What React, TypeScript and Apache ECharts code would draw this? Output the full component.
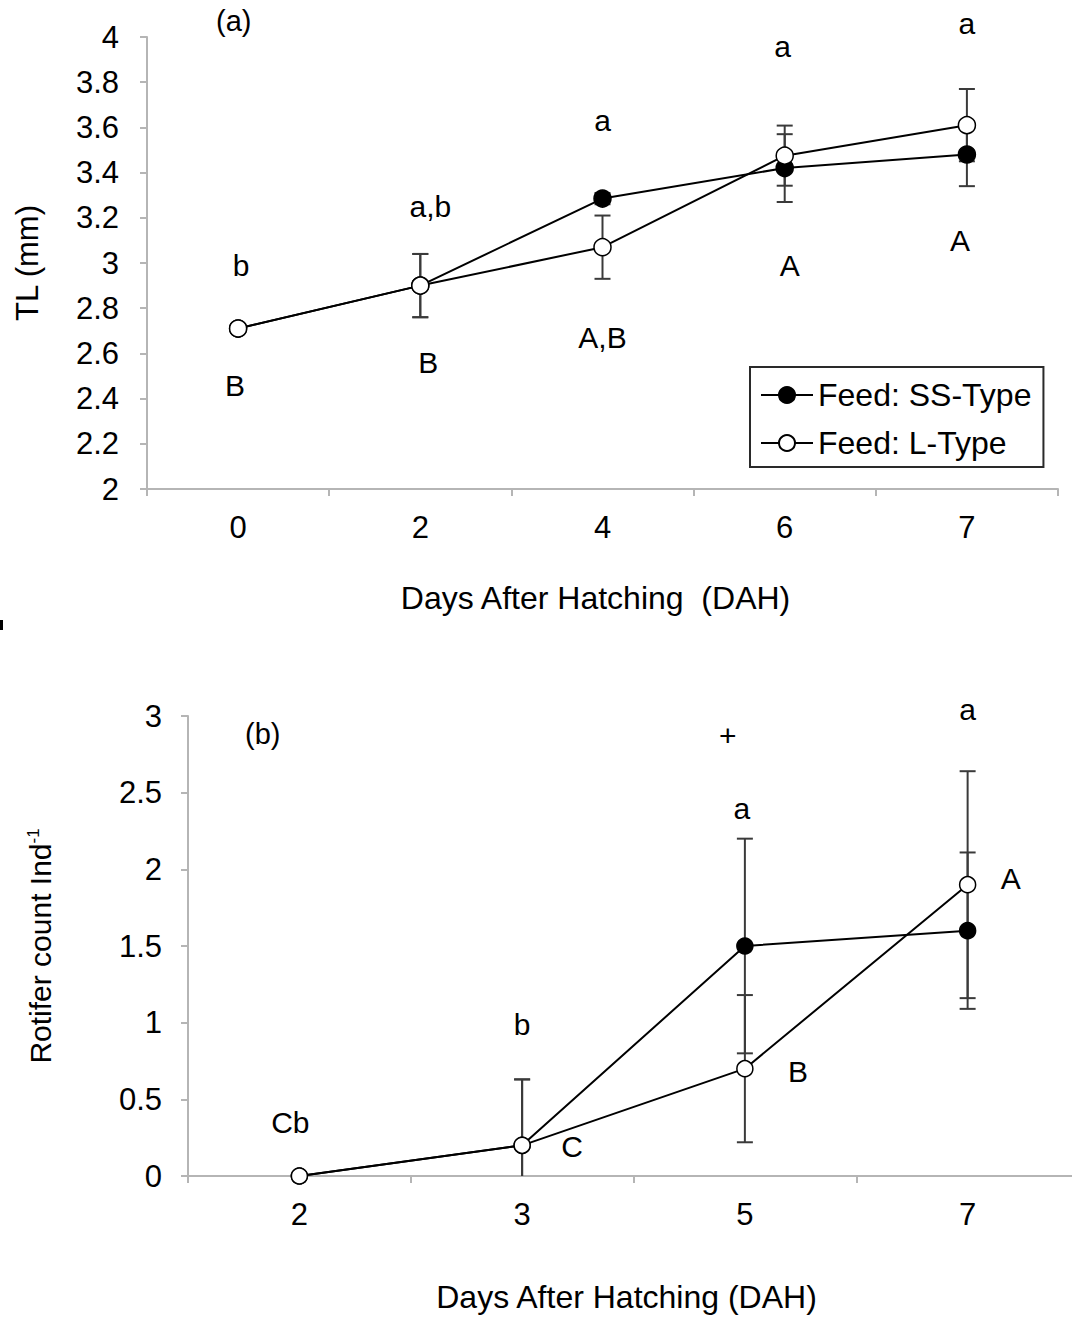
import React, { useEffect, useRef } from 'react';
import * as echarts from 'echarts';

// ---------- Panel (a): total length ----------
const daysA = ['0', '2', '4', '6', '7'];
const ssTL = [2.71, 2.9, 3.285, 3.42, 3.48];
const lTL = [2.71, 2.9, 3.07, 3.475, 3.61];
const ssTLErr = [0, 0.14, 0.025, 0.15, 0.14];
const lTLErr = [0, 0.14, 0.14, 0.133, 0.16];
const tlTicks = { min: 2, max: 4, interval: 0.2 };
// annotation letters: [category index, y value, text, x offset px]
const annotA: [number, number, string, number][] = [
  [0, 2.99, 'b', 3], [0, 2.46, 'B', -3],
  [1, 3.25, 'a,b', 10], [1, 2.56, 'B', 8],
  [2, 3.63, 'a', 0], [2, 2.67, 'A,B', 0],
  [3, 3.96, 'a', -2], [3, 2.99, 'A', 5],
  [4, 4.06, 'a', 0], [4, 3.1, 'A', -7],
];

// ---------- Panel (b): rotifer count ----------
const daysB = ['2', '3', '5', '7'];
const ssRot = [0, 0.2, 1.5, 1.6];
const lRot = [0, 0.2, 0.7, 1.9];
const ssRotErr = [0, 0.43, 0.7, 0.51];
const lRotErr = [0, 0.43, 0.48, 0.74];
const rotTicks = { min: 0, max: 3, interval: 0.5 };
const annotB: [number, number, string, number][] = [
  [0, 0.35, 'Cb', -9],
  [1, 0.985, 'b', 0], [1, 0.19, 'C', 50],
  [2, 2.87, '+', -17], [2, 2.4, 'a', -3], [2, 0.68, 'B', 53],
  [3, 3.04, 'a', 0], [3, 1.94, 'A', 43],
];

const seriesNames = ['Feed: SS-Type', 'Feed: L-Type'];

const FONT = '"Liberation Sans", Arial, Helvetica, sans-serif';
const AXIS_GREY = '#b5b5b5';
const CHART_W = 1092;

function errorBars(gridIdx: number, means: number[], errs: number[], yMin: number) {
  return {
    type: 'custom',
    xAxisIndex: gridIdx,
    yAxisIndex: gridIdx,
    silent: true,
    z: 1,
    encode: { x: 0, y: 1 },
    data: means.map((m, i) => [i, m, errs[i]]),
    renderItem: (_params: any, api: any) => {
      const x = api.value(0);
      const m = api.value(1);
      const e = api.value(2);
      if (!e) return null;
      const hi = m + e;
      const loRaw = m - e;
      const lo = Math.max(loRaw, yMin);
      const pHi = api.coord([x, hi]);
      const pLo = api.coord([x, lo]);
      const cap = 8;
      const st = { stroke: '#3a3a3a', lineWidth: 2 };
      const children: any[] = [
        { type: 'line', shape: { x1: pHi[0], y1: pHi[1], x2: pLo[0], y2: pLo[1] }, style: st },
        { type: 'line', shape: { x1: pHi[0] - cap, y1: pHi[1], x2: pHi[0] + cap, y2: pHi[1] }, style: st },
      ];
      if (loRaw >= yMin) {
        children.push({ type: 'line', shape: { x1: pLo[0] - cap, y1: pLo[1], x2: pLo[0] + cap, y2: pLo[1] }, style: st });
      }
      return { type: 'group', children };
    },
  };
}

function lineSeries(gridIdx: number, name: string, data: number[], filled: boolean, size: number) {
  return {
    type: 'line',
    name,
    xAxisIndex: gridIdx,
    yAxisIndex: gridIdx,
    data,
    z: 3,
    symbol: 'circle',
    symbolSize: size,
    showAllSymbol: true,
    lineStyle: { color: '#000', width: 2 },
    itemStyle: { color: filled ? '#000' : '#fff', borderColor: '#000', borderWidth: 1.5, opacity: 1 },
    emphasis: { disabled: true },
  };
}

function annotSeries(gridIdx: number, items: [number, number, string, number][]) {
  return {
    type: 'scatter',
    xAxisIndex: gridIdx,
    yAxisIndex: gridIdx,
    silent: true,
    clip: false,
    z: 5,
    symbol: 'circle',
    symbolSize: 1,
    itemStyle: { color: '#000', opacity: 0 },
    data: items.map(([i, y, t, dx]) => ({
      value: [i, y],
      label: {
        show: true,
        position: 'inside',
        formatter: t,
        offset: [dx, 0],
        color: '#000',
        opacity: 1,
        textBorderWidth: 0,
        fontSize: 30,
        fontFamily: FONT,
        fontWeight: t === '+' ? 200 : 'normal',
      },
    })),
  };
}

function catAxis(gridIdx: number, data: string[], name: string, nameGap: number) {
  return {
    type: 'category',
    gridIndex: gridIdx,
    data,
    boundaryGap: true,
    name,
    nameLocation: 'middle',
    nameGap,
    nameTextStyle: { fontSize: 32, fontFamily: FONT, color: '#000', padding: [0, 14, 0, 0] },
    axisLine: { show: true, lineStyle: { color: AXIS_GREY, width: 2 } },
    axisTick: { show: true, length: 7, lineStyle: { color: AXIS_GREY, width: 2 } },
    axisLabel: { fontSize: 31, fontFamily: FONT, color: '#000', margin: 23 },
    splitLine: { show: false },
  };
}

function valAxis(gridIdx: number, t: { min: number; max: number; interval: number }, name: any, nameGap: number, margin: number) {
  return {
    type: 'value',
    gridIndex: gridIdx,
    min: t.min,
    max: t.max,
    interval: t.interval,
    name,
    nameLocation: 'middle',
    nameGap,
    nameTextStyle: {
      fontSize: 31,
      fontFamily: FONT,
      color: '#000',
      rich: {
        sup: { fontSize: 17, fontFamily: FONT, color: '#000', verticalAlign: 'top', padding: [0, 0, 12, 0] },
        base: { fontSize: 30, fontFamily: FONT, color: '#000' },
      },
    },
    axisLine: { show: true, lineStyle: { color: AXIS_GREY, width: 2 } },
    axisTick: { show: true, length: 7, lineStyle: { color: AXIS_GREY, width: 2 } },
    axisLabel: {
      fontSize: 31,
      fontFamily: FONT,
      color: '#000',
      margin,
      formatter: (v: number) => String(+v.toFixed(1)),
    },
    splitLine: { show: false },
  };
}

export default function App() {
  const ref = useRef<HTMLDivElement>(null);
  useEffect(() => {
    if (!ref.current) return;
    const chart = echarts.init(ref.current, null, { renderer: 'svg' });
    chart.setOption({
      animation: false,
      backgroundColor: '#fff',
      textStyle: { fontFamily: FONT },
      grid: [
        { left: 147, right: CHART_W - 1058, top: 37, bottom: 1318 - 489 },
        { left: 188, right: CHART_W - 1079, top: 716, bottom: 1318 - 1176 },
      ],
      xAxis: [
        catAxis(0, daysA, 'Days After Hatching  (DAH)', 93),
        catAxis(1, daysB, 'Days After Hatching (DAH)', 105),
      ],
      yAxis: [
        valAxis(0, tlTicks, 'TL (mm)', 104, 28),
        valAxis(1, rotTicks, '{base|Rotifer count Ind}{sup|-1}', 133, 26),
      ],
      legend: {
        data: seriesNames,
        left: 750,
        top: 367,
        orient: 'vertical',
        padding: [12, 12, 8, 10],
        itemGap: 16,
        itemWidth: 52,
        itemHeight: 20,
        borderColor: '#2a2a2a',
        borderWidth: 2,
        backgroundColor: '#fff',
        selectedMode: false,
        textStyle: { fontSize: 32, fontFamily: FONT, color: '#000' },
      },
      graphic: [
        { type: 'text', left: 216, top: 6, style: { text: '(a)', fontSize: 29, fontFamily: FONT, fill: '#000' } },
        { type: 'text', left: 245, top: 719, style: { text: '(b)', fontSize: 29, fontFamily: FONT, fill: '#000' } },
        { type: 'rect', left: 0, top: 620, shape: { width: 3, height: 10 }, style: { fill: '#000' } },
      ],
      series: [
        errorBars(0, ssTL, ssTLErr, tlTicks.min),
        errorBars(0, lTL, lTLErr, tlTicks.min),
        lineSeries(0, seriesNames[0], ssTL, true, 17),
        lineSeries(0, seriesNames[1], lTL, false, 17),
        annotSeries(0, annotA),
        errorBars(1, ssRot, ssRotErr, rotTicks.min),
        errorBars(1, lRot, lRotErr, rotTicks.min),
        lineSeries(1, seriesNames[0], ssRot, true, 16),
        lineSeries(1, seriesNames[1], lRot, false, 16),
        annotSeries(1, annotB),
      ],
    });
    return () => chart.dispose();
  }, []);
  return (
    <div style={{ position: 'absolute', left: 0, top: 0, width: 1072, height: 1318, overflow: 'hidden', background: '#fff' }}>
      <div ref={ref} style={{ position: 'absolute', left: 0, top: 0, width: CHART_W, height: 1318 }} />
    </div>
  );
}
